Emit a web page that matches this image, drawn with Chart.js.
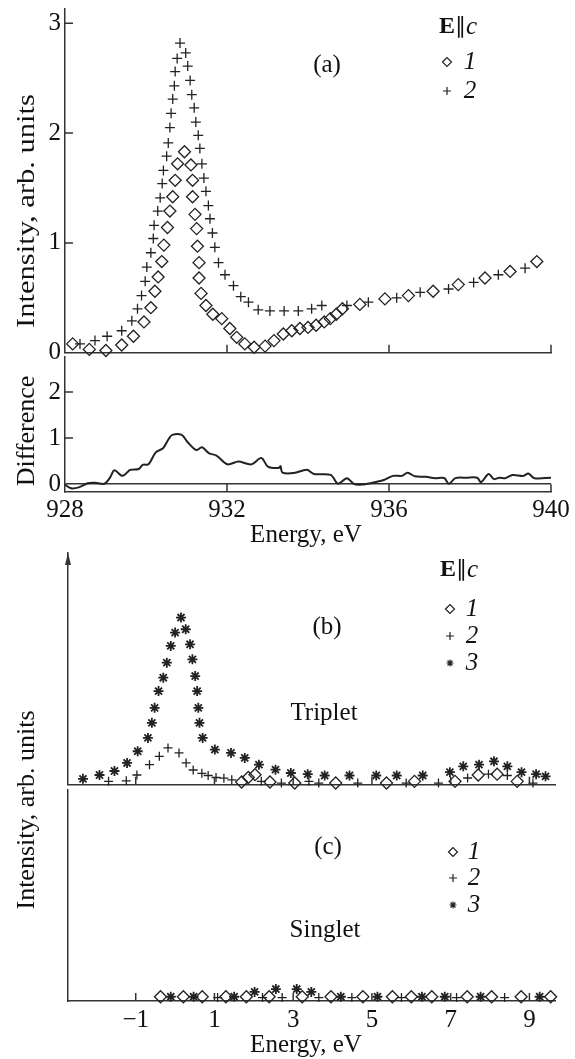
<!DOCTYPE html>
<html>
<head>
<meta charset="utf-8">
<script src="https://cdn.jsdelivr.net/npm/chart.js@4.4.0/dist/chart.umd.min.js"></script>
<style>
  body { margin: 0; background: #fff; width: 575px; height: 1059px; position: relative; overflow: hidden; }
  canvas { position: absolute; left: 0; }
</style>
</head>
<body>
<canvas id="chartA" width="575" height="360" style="top:0px"></canvas>
<canvas id="chartD" width="575" height="192" style="top:356px"></canvas>
<canvas id="chartB" width="575" height="252" style="top:540px"></canvas>
<canvas id="chartC" width="575" height="359" style="top:700px"></canvas>
<script>
// ---- panel (a): intensity vs energy, E || c
let energyA1 = [928.19,928.60,929.01,929.40,929.69,929.95,930.12,930.22,930.30,930.39,930.44,930.53,930.59,930.66,930.72,930.78,930.95,931.11,931.15,931.15,931.21,931.25,931.27,931.31,931.31,931.36,931.48,931.65,931.87,932.07,932.24,932.44,932.67,932.94,933.16,933.39,933.60,933.80,934.00,934.20,934.40,934.55,934.70,934.85,935.28,935.90,936.48,937.09,937.71,938.37,938.99,939.65];
let intensityA1 = [0.08,0.03,0.02,0.07,0.15,0.28,0.41,0.56,0.69,0.83,0.98,1.14,1.29,1.42,1.57,1.72,1.83,1.71,1.57,1.42,1.26,1.13,0.97,0.82,0.68,0.54,0.43,0.35,0.31,0.22,0.14,0.08,0.05,0.06,0.11,0.17,0.20,0.22,0.23,0.25,0.28,0.31,0.35,0.40,0.44,0.49,0.52,0.56,0.62,0.68,0.74,0.83];
let energyA2 = [928.37,928.74,929.04,929.40,929.65,929.79,929.89,929.98,930.02,930.12,930.18,930.20,930.29,930.35,930.40,930.43,930.51,930.55,930.59,930.62,930.66,930.70,930.72,930.77,930.84,930.98,931.03,931.09,931.13,931.19,931.23,931.29,931.33,931.38,931.43,931.48,931.54,931.58,931.64,931.70,931.79,931.95,932.16,932.34,932.53,932.77,933.06,933.41,933.76,934.09,934.34,934.96,935.49,936.19,936.77,937.47,938.09,938.70,939.36];
let intensityA2 = [0.08,0.11,0.15,0.20,0.29,0.40,0.52,0.65,0.78,0.91,1.04,1.16,1.29,1.41,1.54,1.66,1.79,1.91,2.05,2.18,2.31,2.43,2.56,2.68,2.82,2.73,2.61,2.48,2.35,2.23,2.10,1.98,1.86,1.72,1.59,1.47,1.34,1.22,1.09,0.96,0.82,0.71,0.61,0.51,0.46,0.39,0.38,0.38,0.38,0.40,0.43,0.43,0.46,0.50,0.55,0.58,0.64,0.71,0.77];

// ---- difference curve
let energyDiff = [928.0,928.15,928.34,928.56,928.74,928.97,929.11,929.22,929.42,929.61,929.82,929.92,930.06,930.24,930.42,930.56,930.65,930.88,931.03,931.24,931.38,931.56,931.74,932.01,932.28,932.60,932.85,933.01,933.28,933.32,933.37,933.65,933.97,934.15,934.56,934.74,934.96,935.14,935.33,935.64,935.87,936.10,936.32,936.46,936.64,936.91,937.14,937.28,937.37,937.48,937.64,937.91,938.18,938.27,938.46,938.59,938.73,938.87,939.05,939.32,939.44,939.59,940.0];
let difference = [-0.01,-0.09,-0.07,0.02,0.03,0.01,0.14,0.30,0.18,0.31,0.33,0.42,0.43,0.69,0.78,0.98,1.07,1.07,0.91,0.74,0.80,0.67,0.62,0.43,0.49,0.43,0.57,0.38,0.35,0.39,0.25,0.24,0.31,0.22,0.20,0.01,0.13,0.0,-0.01,0.04,0.09,0.18,0.18,0.25,0.17,0.16,0.13,0.14,0.13,0.01,0.13,0.14,0.14,0.04,0.22,0.11,0.14,0.13,0.20,0.18,0.23,0.13,0.14];

// ---- panel (b): triplet
let tripletE1 = [1.69,1.86,2.03,2.41,3.04,4.08,5.37,6.08,7.11,7.70,8.18,8.69];
let triplet1 = [0.016,0.043,0.06,0.016,0.01,0.01,0.01,0.02,0.02,0.058,0.063,0.02];
let tripletE2 = [-1.69,-1.24,-0.97,-0.65,-0.40,-0.18,0.10,0.28,0.46,0.68,0.84,1.04,1.24,1.44,2.19,2.70,3.40,3.65,4.64,5.87,6.69,7.43,7.96,8.44,9.09];
let triplet2 = [0.02,0.023,0.058,0.12,0.17,0.22,0.19,0.13,0.088,0.068,0.055,0.043,0.039,0.029,0.02,0.01,0.02,0.01,0.01,0.01,0.01,0.04,0.063,0.055,0.01];
let tripletE3 = [-2.34,-1.92,-1.54,-1.22,-0.95,-0.69,-0.59,-0.52,-0.42,-0.30,-0.21,-0.11,0.00,0.15,0.27,0.38,0.44,0.51,0.56,0.59,0.62,0.70,1.01,1.42,1.77,2.13,2.55,2.94,3.37,3.80,4.43,5.11,5.63,6.29,6.98,7.32,7.72,8.10,8.44,8.80,9.17,9.41];
let triplet3 = [0.035,0.058,0.082,0.13,0.20,0.28,0.37,0.46,0.56,0.64,0.73,0.83,0.91,1.00,0.93,0.84,0.75,0.65,0.56,0.46,0.37,0.28,0.21,0.19,0.16,0.12,0.09,0.07,0.063,0.055,0.055,0.055,0.055,0.055,0.075,0.11,0.12,0.14,0.11,0.075,0.063,0.05];

// ---- panel (c): singlet
let singletE1 = [-0.37,0.21,0.69,1.29,1.81,2.39,3.23,3.96,4.77,5.52,6.00,6.52,7.42,8.04,8.79,9.54];
let singlet1 = [0.025,0.025,0.025,0.025,0.025,0.025,0.025,0.025,0.025,0.025,0.025,0.025,0.025,0.025,0.025,0.025];
let singletE2 = [1.08,2.22,2.72,3.65,4.49,5.75,7.15,8.37];
let singlet2 = [0.02,0.02,0.02,0.02,0.02,0.02,0.02,0.02];
let singletE3 = [-0.11,0.47,1.50,2.02,2.56,3.09,3.46,4.21,5.14,6.27,6.85,7.76,9.26];
let singlet3 = [0.025,0.025,0.025,0.053,0.07,0.07,0.053,0.025,0.025,0.025,0.025,0.025,0.025];

// tick values
let ticksTopX = [928,932,936,940];
let ticksTopY = [0,1,2,3];
let ticksDiffY = [0,1,2];
let ticksLowX = [-1,1,3,5,7,9];

const serif = '"Liberation Serif", "Times New Roman", serif';
Chart.defaults.font.family = serif;
Chart.defaults.font.size = 25;
Chart.defaults.color = '#111';

const ink = '#222';
const axisColor = '#333';
const pts = (xs, ys) => xs.map((x, i) => ({x: x, y: ys[i]}));
const diamond = {pointStyle: 'rectRot', pointRadius: 6, pointBorderWidth: 1.3, pointBorderColor: ink, pointBackgroundColor: 'rgba(0,0,0,0)', clip: false};
const cross = {pointStyle: 'cross', pointRadius: 5, pointBorderWidth: 1.3, pointBorderColor: ink, pointBackgroundColor: 'rgba(0,0,0,0)', clip: false};
const star = {pointStyle: 'star', pointRadius: 5, pointBorderWidth: 1.8, pointBorderColor: ink, pointBackgroundColor: 'rgba(0,0,0,0)', clip: false};

// free text (labels, rotated titles, E||c) -- kept out of chart options so Chart.js does not resolve 'font'
function notes(items) {
  return {
    id: 'notes',
    afterDraw(chart) {
      const ctx = chart.ctx;
      items.forEach(it => {
        ctx.save();
        ctx.translate(it.x, it.y);
        if (it.rotate) ctx.rotate(it.rotate * Math.PI / 180);
        ctx.fillStyle = '#111';
        ctx.textBaseline = 'middle';
        ctx.textAlign = 'left';
        const parts = it.parts || [{text: it.text, font: it.font}];
        const widths = parts.map(p => { ctx.font = p.font; return ctx.measureText(p.text).width; });
        const total = widths.reduce((s, w) => s + w, 0);
        if (it.stretch) ctx.scale(it.stretch / total, 1);
        let x = -total / 2;
        parts.forEach((p, i) => { ctx.font = p.font; ctx.fillText(p.text, x, 0); x += widths[i]; });
        ctx.restore();
      });
    }
  };
}

// small legend: marker + italic number
function key(x, textX, rows) {
  return {
    id: 'key',
    afterDraw(chart) {
      const ctx = chart.ctx;
      rows.forEach(row => {
        const ds = chart.data.datasets[row.dataset];
        ctx.save();
        ctx.strokeStyle = ink;
        ctx.fillStyle = 'rgba(0,0,0,0)';
        ctx.lineWidth = 1.2;
        Chart.helpers.drawPoint(ctx, {pointStyle: ds.pointStyle, radius: row.r, borderWidth: 1.2, rotation: 0}, x, row.y);
        ctx.fillStyle = '#111';
        ctx.font = 'italic 25px ' + serif;
        ctx.textBaseline = 'middle';
        ctx.textAlign = 'center';
        ctx.fillText(ds.label, textX, row.y);
        ctx.restore();
      });
    }
  };
}

// inward tick marks, arrow, zero line stub
function decor(o) {
  return {
    id: 'decor',
    afterDraw(chart) {
      const {ctx, chartArea: a, scales} = chart;
      ctx.save();
      ctx.strokeStyle = axisColor;
      ctx.lineWidth = 1.5;
      ctx.beginPath();
      (o.xTicks || []).forEach(v => {
        const px = scales.x.getPixelForValue(v);
        ctx.moveTo(px, a.bottom); ctx.lineTo(px, a.bottom - o.len);
      });
      (o.yTicks || []).forEach(v => {
        const py = scales.y.getPixelForValue(v);
        ctx.moveTo(a.left, py); ctx.lineTo(a.left + o.len, py);
      });
      if (o.stub) {
        ctx.moveTo(a.right, scales.y.getPixelForValue(0)); ctx.lineTo(a.right, a.bottom);
      }
      ctx.stroke();
      if (o.arrow) {
        ctx.fillStyle = axisColor;
        ctx.beginPath();
        ctx.moveTo(a.left, a.top);
        ctx.lineTo(a.left - 3, a.top + 12);
        ctx.lineTo(a.left + 3, a.top + 12);
        ctx.closePath();
        ctx.fill();
      }
      ctx.restore();
    }
  };
}

const border = {display: true, color: axisColor, width: 1.5};
const noGrid = {display: false, drawTicks: false};
function fixWidth(w) { return s => { s.width = w; s.paddingTop = 0; s.paddingBottom = 0; }; }
function fixHeight(h) { return s => { s.height = h; s.paddingLeft = 0; s.paddingRight = 0; }; }
function setTicks(vals) { return s => { s.ticks = vals.map(v => ({value: v})); }; }
const minus = v => (v < 0 ? '\u2212' + Math.abs(v) : String(v));
const ePar = [{text: 'E', font: 'bold 24px ' + serif}, {text: '\u2225', font: '22px ' + serif}, {text: 'c', font: 'italic 25px ' + serif}];
const f25 = '25px ' + serif;

const base = {
  responsive: false,
  animation: false,
  events: [],
  devicePixelRatio: 1
};
const quiet = {legend: {display: false}, tooltip: {enabled: false}};

// (a)
new Chart(document.getElementById('chartA'), {
  type: 'scatter',
  data: {datasets: [
    Object.assign({label: '1', data: pts(energyA1, intensityA1)}, diamond),
    Object.assign({label: '2', data: pts(energyA2, intensityA2)}, cross)
  ]},
  options: Object.assign({}, base, {
    layout: {padding: {top: 9, right: 24, left: 0, bottom: 0}},
    scales: {
      x: {type: 'linear', min: 928, max: 940, grid: noGrid, border: border,
          ticks: {display: false}, afterBuildTicks: setTicks(ticksTopX), afterFit: fixHeight(4)},
      y: {min: 0, max: 3.13, grid: noGrid, border: border,
          ticks: {padding: 4}, afterBuildTicks: setTicks(ticksTopY), afterFit: fixWidth(65)}
    },
    plugins: quiet
  }),
  plugins: [
    decor({xTicks: ticksTopX.slice(1), yTicks: ticksTopY.slice(1), len: 8}),
    key(447, 470, [{dataset: 0, y: 62, r: 4.5}, {dataset: 1, y: 91, r: 4}]),
    notes([
      {text: '(a)', font: f25, x: 327, y: 65},
      {parts: ePar, x: 458, y: 27},
      {text: 'Intensity, arb. units', font: '26px ' + serif, x: 27, y: 211, rotate: -90, stretch: 234}
    ])
  ]
});

// difference
new Chart(document.getElementById('chartD'), {
  type: 'scatter',
  data: {datasets: [{
    label: 'Difference', data: pts(energyDiff, difference), showLine: true,
    borderColor: ink, borderWidth: 2, pointRadius: 0, tension: 0.3
  }]},
  options: Object.assign({}, base, {
    layout: {padding: {top: 0, right: 24, left: 0, bottom: 0}},
    scales: {
      x: {type: 'linear', min: 928, max: 940, grid: noGrid, border: border,
          ticks: {padding: 3}, afterBuildTicks: setTicks(ticksTopX), afterFit: fixHeight(56)},
      y: {min: -0.17, max: 2.78, border: border,
          grid: {display: true, drawTicks: false, lineWidth: 1.5,
                 color: c => (c.tick && c.tick.value === 0 ? axisColor : 'rgba(0,0,0,0)')},
          ticks: {padding: 4}, afterBuildTicks: setTicks(ticksDiffY), afterFit: fixWidth(65)}
    },
    plugins: quiet
  }),
  plugins: [
    decor({xTicks: [932, 936], yTicks: [1, 2], len: 8, stub: true}),
    notes([
      {text: 'Difference', font: '26px ' + serif, x: 27, y: 75, rotate: -90},
      {text: 'Energy, eV', font: f25, x: 306, y: 179}
    ])
  ]
});

// (b) triplet
new Chart(document.getElementById('chartB'), {
  type: 'scatter',
  data: {datasets: [
    Object.assign({label: '1', data: pts(tripletE1, triplet1)}, diamond),
    Object.assign({label: '2', data: pts(tripletE2, triplet2)}, cross, {pointRadius: 4.5}),
    Object.assign({label: '3', data: pts(tripletE3, triplet3)}, star)
  ]},
  options: Object.assign({}, base, {
    layout: {padding: {top: 13, right: 20, left: 0, bottom: 0}},
    scales: {
      x: {type: 'linear', min: -2.72, max: 9.65, grid: noGrid, border: border,
          ticks: {display: false}, afterBuildTicks: setTicks(ticksLowX), afterFit: fixHeight(2)},
      y: {min: 0, max: 1.386, grid: noGrid, border: border,
          ticks: {display: false}, afterFit: fixWidth(68)}
    },
    plugins: quiet
  }),
  plugins: [
    decor({xTicks: ticksLowX, len: 8, arrow: true}),
    key(450, 472, [{dataset: 0, y: 69, r: 4.5}, {dataset: 1, y: 96, r: 4}, {dataset: 2, y: 123, r: 3.5}]),
    notes([
      {text: '(b)', font: f25, x: 327, y: 87},
      {parts: ePar, x: 459, y: 30},
      {text: 'Triplet', font: f25, x: 324, y: 173}
    ])
  ]
});

// (c) singlet
new Chart(document.getElementById('chartC'), {
  type: 'scatter',
  data: {datasets: [
    Object.assign({label: '1', data: pts(singletE1, singlet1)}, diamond),
    Object.assign({label: '2', data: pts(singletE2, singlet2)}, cross, {pointRadius: 4.5}),
    Object.assign({label: '3', data: pts(singletE3, singlet3)}, star)
  ]},
  options: Object.assign({}, base, {
    layout: {padding: {top: 90, right: 20, left: 0, bottom: 0}},
    scales: {
      x: {type: 'linear', min: -2.72, max: 9.65, grid: noGrid, border: border,
          ticks: {padding: 4, callback: minus}, afterBuildTicks: setTicks(ticksLowX), afterFit: fixHeight(58)},
      y: {min: 0, max: 1.234, grid: noGrid, border: border,
          ticks: {display: false}, afterFit: fixWidth(68)}
    },
    plugins: quiet
  }),
  plugins: [
    decor({xTicks: ticksLowX, len: 8}),
    key(453, 474, [{dataset: 0, y: 152, r: 4.5}, {dataset: 1, y: 178, r: 4}, {dataset: 2, y: 205, r: 3.5}]),
    notes([
      {text: '(c)', font: f25, x: 328, y: 147},
      {text: 'Singlet', font: f25, x: 325, y: 230},
      {text: 'Intensity, arb. units', font: '26px ' + serif, x: 27, y: 110, rotate: -90},
      {text: 'Energy, eV', font: f25, x: 306, y: 345}
    ])
  ]
});
</script>
</body>
</html>
